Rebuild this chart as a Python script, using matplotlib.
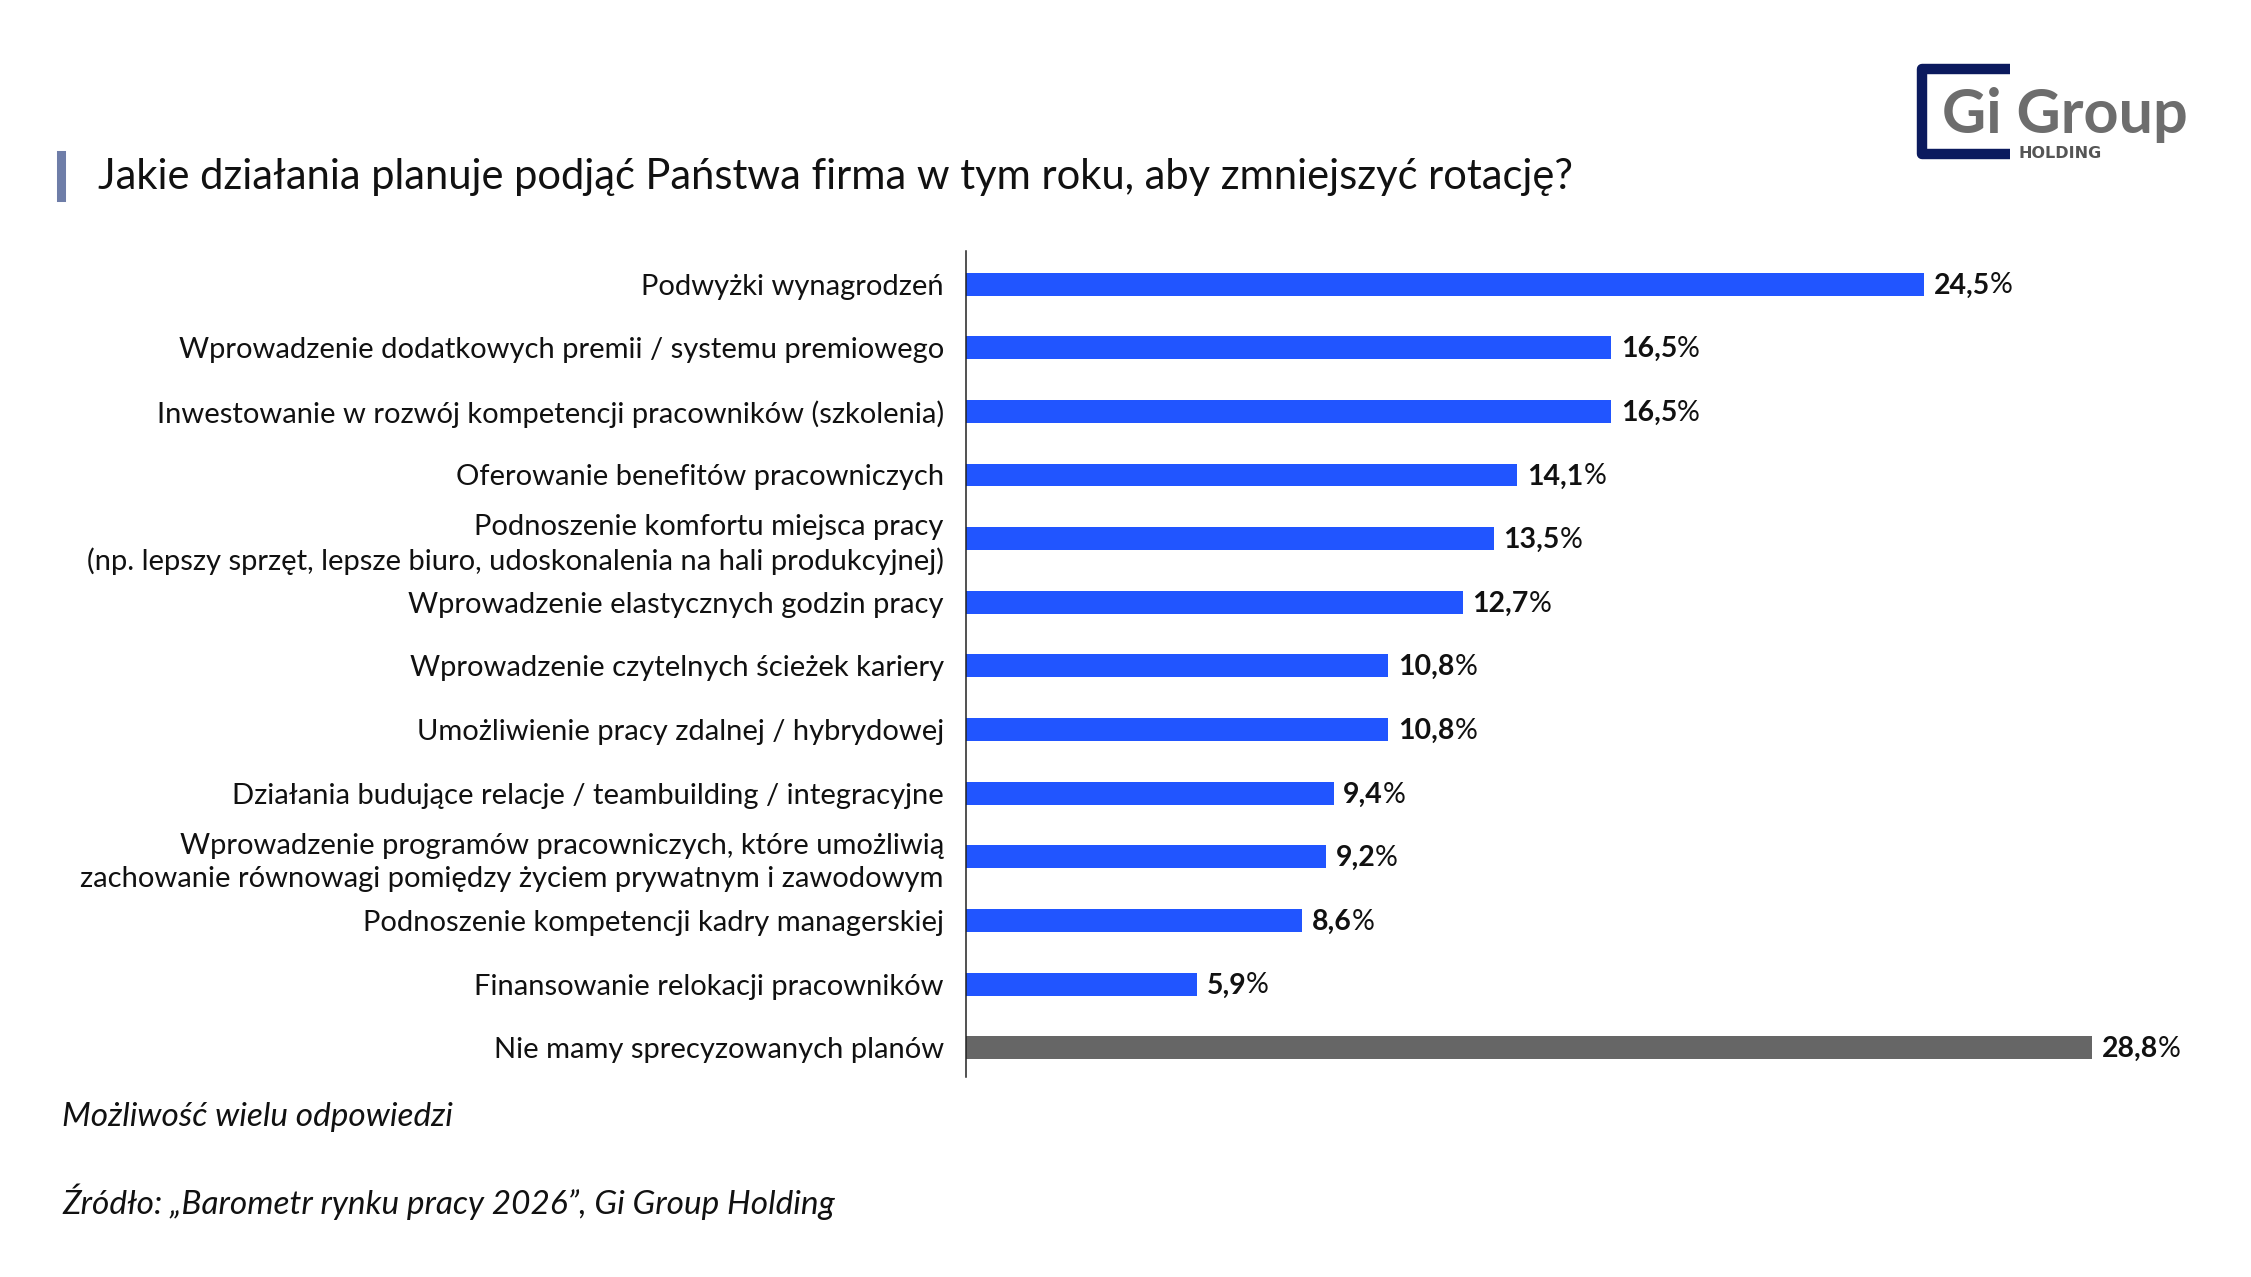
import matplotlib
matplotlib.use("Agg")
import matplotlib.pyplot as plt
from matplotlib.lines import Line2D

plt.rcParams['font.family'] = ['Lato', 'DejaVu Sans']

W, H = 2251, 1277

categories = [
    "Podwyżki wynagrodzeń",
    "Wprowadzenie dodatkowych premii / systemu premiowego",
    "Inwestowanie w rozwój kompetencji pracowników (szkolenia)",
    "Oferowanie benefitów pracowniczych",
    "Podnoszenie komfortu miejsca pracy\n(np. lepszy sprzęt, lepsze biuro, udoskonalenia na hali produkcyjnej)",
    "Wprowadzenie elastycznych godzin pracy",
    "Wprowadzenie czytelnych ścieżek kariery",
    "Umożliwienie pracy zdalnej / hybrydowej",
    "Działania budujące relacje / teambuilding / integracyjne",
    "Wprowadzenie programów pracowniczych, które umożliwią\nzachowanie równowagi pomiędzy życiem prywatnym i zawodowym",
    "Podnoszenie kompetencji kadry managerskiej",
    "Finansowanie relokacji pracowników",
    "Nie mamy sprecyzowanych planów",
]
values = [24.5, 16.5, 16.5, 14.1, 13.5, 12.7, 10.8, 10.8, 9.4, 9.2, 8.6, 5.9, 28.8]

BLUE = "#2155FF"
GREY = "#666666"
colors = [BLUE] * 12 + [GREY]


def fx(px):
    return px / W


def fy(py):
    return 1 - py / H


fig = plt.figure(figsize=(W / 100, H / 100), dpi=100)
fig.patch.set_facecolor("white")

# axes placed in pixel terms
ax = fig.add_axes([fx(966), fy(1077), fx(2139) - fx(966), fy(251) - fy(1077)])
pos = list(range(len(values)))
ax.barh(pos, values, height=0.36, color=colors)
ax.set_xlim(0, 30)
ax.set_ylim(12.46, -0.52)
ax.set_yticks(pos)
ax.set_yticklabels(categories, fontsize=21, color="#111111", linespacing=1.3)
ax.tick_params(axis="y", length=0, pad=16)
ax.set_xticks([])
for s in ["top", "right", "bottom"]:
    ax.spines[s].set_visible(False)
ax.spines["left"].set_color("#222222")
ax.spines["left"].set_linewidth(1.1)

# value labels: bold number + regular percent sign
for p, v in zip(pos, values):
    num = f"{v:.1f}".replace(".", ",")
    t = ax.annotate(num, xy=(v, p), xytext=(7, -1), textcoords="offset points",
                    ha="left", va="center", fontsize=20.5, fontweight="bold", color="#111111")
    ax.annotate("%", xy=(1, 0), xycoords=t, ha="left", va="bottom",
                fontsize=20.5, color="#111111")

# title with accent bar
fig.add_artist(Line2D([fx(61), fx(61)], [fy(155), fy(197)], color="#6E7DA8", linewidth=6.5))
fig.text(fx(98), fy(177), "Jakie działania planuje podjąć Państwa firma w tym roku, aby zmniejszyć rotację?",
         fontsize=30, va="center", ha="left", color="#111111")

# footer notes
fig.text(fx(62), fy(1117), "Możliwość wielu odpowiedzi", fontsize=24, style="italic",
         va="center", ha="left", color="#111111")
fig.text(fx(62), fy(1202), "Źródło: „Barometr rynku pracy 2026”, Gi Group Holding", fontsize=24,
         style="italic", va="center", ha="left", color="#111111")

# logo
NAVY = "#0B1A5E"
fig.add_artist(Line2D([fx(2010), fx(1922), fx(1922), fx(2010)],
                      [fy(69), fy(69), fy(154), fy(154)],
                      color=NAVY, linewidth=7.5, solid_joinstyle="round", solid_capstyle="butt"))
fig.text(fx(1942), fy(133), "Gi Group", fontsize=44, fontweight="bold", color="#6D6D6D",
         ha="left", va="baseline")
fig.text(fx(2018), fy(158), "HOLDING", fontsize=11.5, fontweight="bold", color="#555555",
         family="DejaVu Sans", ha="left", va="baseline")

fig.savefig("out.png", dpi=100, facecolor="white")
